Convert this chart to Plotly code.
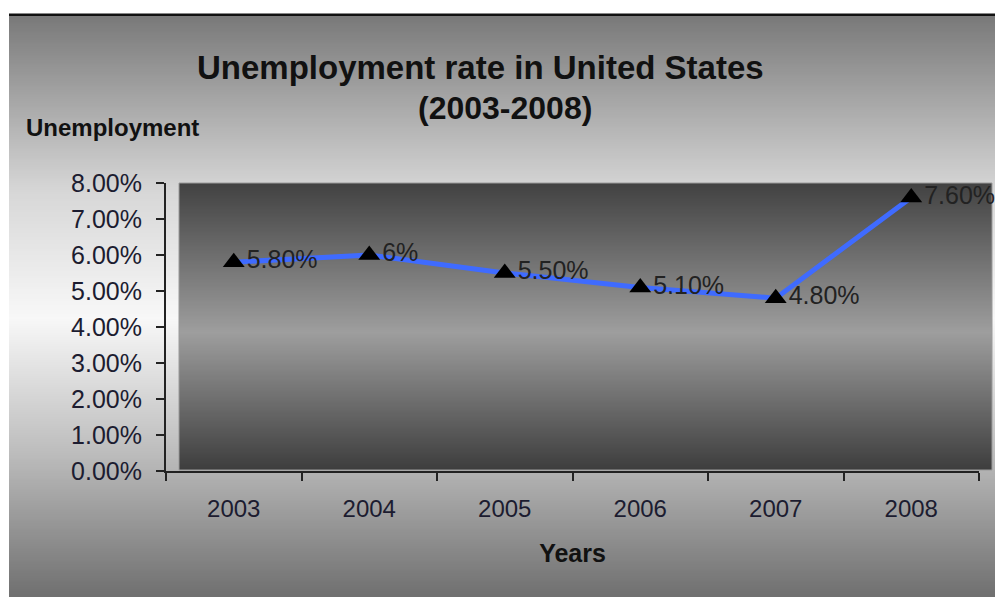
import base64, struct, zlib
import plotly.graph_objects as go

# ---- data ----
years = ["2003", "2004", "2005", "2006", "2007", "2008"]
rates = [5.8, 6.0, 5.5, 5.1, 4.8, 7.6]
rate_labels = ["5.80%", "6%", "5.50%", "5.10%", "4.80%", "7.60%"]
y_ticks = [0, 1, 2, 3, 4, 5, 6, 7, 8]
y_tick_text = ["0.00%", "1.00%", "2.00%", "3.00%", "4.00%", "5.00%", "6.00%", "7.00%", "8.00%"]

W, H = 995, 597
L, R, T, B = 166, 979, 183, 471  # plot domain in pixels


def px2x(px):
    return (px - L) / (R - L)


def py2y(py):
    return (B - py) / (B - T)


def grad_png(stops, n=256):
    """vertical greyscale gradient PNG (1 x n) as data URI"""
    vals = []
    for i in range(n):
        t = i / (n - 1)
        for (t0, v0), (t1, v1) in zip(stops[:-1], stops[1:]):
            if t0 <= t <= t1:
                f = 0 if t1 == t0 else (t - t0) / (t1 - t0)
                vals.append(int(round(v0 + (v1 - v0) * f)))
                break
    raw = b"".join(b"\x00" + bytes([v]) for v in vals)

    def chunk(tag, data):
        c = struct.pack(">I", len(data)) + tag + data
        return c + struct.pack(">I", zlib.crc32(tag + data) & 0xFFFFFFFF)

    png = b"\x89PNG\r\n\x1a\n"
    png += chunk(b"IHDR", struct.pack(">IIBBBBB", 1, n, 8, 0, 0, 0, 0))
    png += chunk(b"IDAT", zlib.compress(raw))
    png += chunk(b"IEND", b"")
    return "data:image/png;base64," + base64.b64encode(png).decode()


outer_png = grad_png([(0, 122), (0.3, 215), (0.52, 248), (0.75, 190), (1, 112)])
plot_png = grad_png([(0, 66), (0.52, 158), (1, 62)])

fig = go.Figure()
fig.add_trace(go.Scatter(
    x=years, y=rates, mode="lines+markers+text",
    text=rate_labels, textposition="middle right",
    textfont=dict(family="Liberation Sans, Arial", size=25, color="#222222"),
    line=dict(color="#3F6BFF", width=5),
    marker=dict(symbol="triangle-up", size=19, color="black"),
    cliponaxis=False, showlegend=False, hoverinfo="skip",
))

font = "Liberation Sans, Arial, sans-serif"
fig.update_layout(
    width=W, height=H,
    margin=dict(l=L, r=W - R, t=T, b=H - B),
    paper_bgcolor="white", plot_bgcolor="rgba(0,0,0,0)",
    images=[
        dict(source=outer_png, xref="paper", yref="paper",
             x=px2x(9), y=py2y(16), sizex=(W - 9) / (R - L), sizey=(H - 16) / (B - T),
             xanchor="left", yanchor="top", sizing="stretch", layer="below"),
        dict(source=plot_png, xref="paper", yref="paper",
             x=px2x(179), y=py2y(183), sizex=(992 - 179) / (R - L), sizey=(470 - 183) / (B - T),
             xanchor="left", yanchor="top", sizing="stretch", layer="below"),
    ],
    shapes=[
        dict(type="rect", xref="paper", yref="paper",
             x0=px2x(9), x1=px2x(W), y0=py2y(16), y1=py2y(13.5),
             fillcolor="#111111", line=dict(width=0), layer="below"),
        dict(type="rect", xref="paper", yref="paper",
             x0=px2x(179), x1=px2x(992), y0=py2y(470), y1=py2y(183),
             fillcolor="rgba(0,0,0,0)", line=dict(color="#9a9a9a", width=1), layer="below"),
    ],
    xaxis=dict(
        type="category", range=[-0.5, 5.5], tickson="boundaries",
        ticks="outside", ticklen=8, tickwidth=2, tickcolor="#222",
        showline=True, linecolor="#222", linewidth=2, showgrid=False,
        tickfont=dict(family=font, size=24, color="#1c1c30"), ticklabelstandoff=15,
        title=dict(text="<b>Years</b>", font=dict(family=font, size=25, color="#111"), standoff=24),
        fixedrange=True,
    ),
    yaxis=dict(
        range=[0, 8], tickvals=y_ticks, ticktext=y_tick_text,
        ticks="outside", ticklen=8, tickwidth=2, tickcolor="#222",
        showline=True, linecolor="#222", linewidth=2, showgrid=False, zeroline=False,
        tickfont=dict(family=font, size=25, color="#1c1c30"), ticklabelstandoff=9,
        fixedrange=True,
    ),
    annotations=[
        dict(text="<b>Unemployment rate in United States</b>", xref="paper", yref="paper",
             x=px2x(480), y=py2y(67), xanchor="center", yanchor="middle", showarrow=False,
             font=dict(family=font, size=33, color="#111")),
        dict(text="<b>(2003-2008)</b>", xref="paper", yref="paper",
             x=px2x(505), y=py2y(108), xanchor="center", yanchor="middle", showarrow=False,
             font=dict(family=font, size=32, color="#111")),
        dict(text="<b>Unemployment</b>", xref="paper", yref="paper",
             x=px2x(24), y=py2y(127), xanchor="left", yanchor="middle", showarrow=False,
             font=dict(family=font, size=24, color="#111")),
    ],
)

fig.write_html("out.html", config={"displayModeBar": False},
               post_script="document.body.style.margin='0';")
